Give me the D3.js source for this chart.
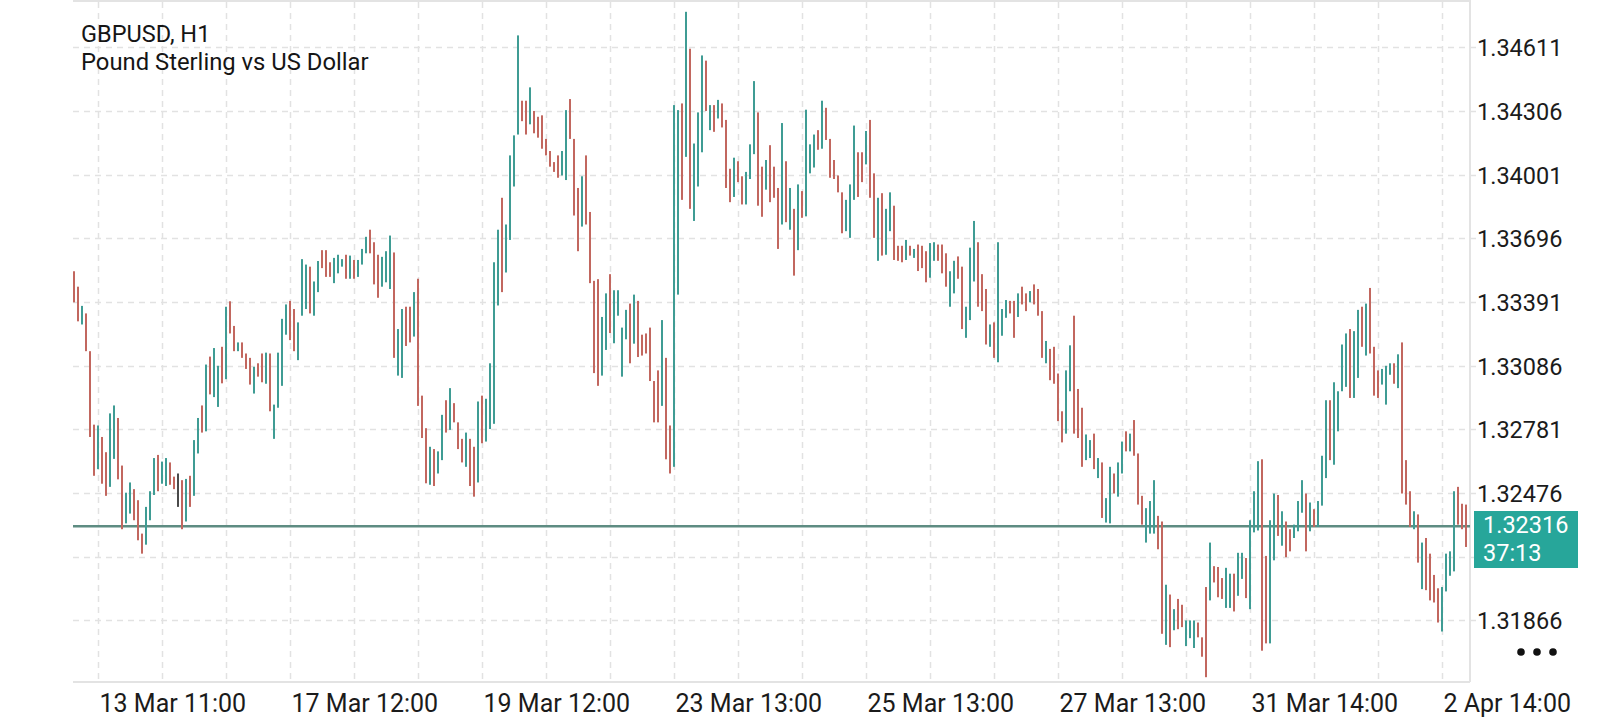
<!DOCTYPE html>
<html><head><meta charset="utf-8">
<script src="https://cdn.jsdelivr.net/npm/d3@7"></script>
<style>html,body{margin:0;padding:0;background:#fff;} svg{display:block;}</style>
</head><body><svg id="c" width="1600" height="720"></svg>
<script>
const symbol = "GBPUSD, H1";
const description = "Pound Sterling vs US Dollar";
const highs = [
1.33538,1.33464,1.33372,1.33336,1.33155,1.32803,1.32799,1.32744,1.32671,1.32857,
1.32895,1.32835,1.32607,1.32477,1.32526,1.32494,1.32441,1.32281,1.32409,1.32484,
1.32643,1.32658,1.32626,1.32643,1.32622,1.32554,1.32569,1.32537,1.32543,1.32558,
1.32729,1.32835,1.32895,1.33091,1.33129,1.33170,1.33085,1.33176,1.33368,1.33394,
1.33276,1.33197,1.33197,1.33144,1.33123,1.33080,1.33097,1.33144,1.33148,1.33144,
1.32899,1.33148,1.33310,1.33379,1.33396,1.33357,1.33293,1.33596,1.33570,1.33560,
1.33489,1.33587,1.33639,1.33639,1.33581,1.33602,1.33617,1.33596,1.33617,1.33613,
1.33592,1.33592,1.33645,1.33703,1.33737,1.33677,1.33617,1.33607,1.33634,1.33709,
1.33628,1.33261,1.33357,1.33368,1.33368,1.33438,1.33502,1.32942,1.32786,1.32697,
1.32686,1.32675,1.32850,1.32920,1.32978,1.32906,1.32814,1.32735,1.32765,1.32735,
1.32697,1.32914,1.32942,1.32927,1.33097,1.33581,1.33737,1.33890,1.33762,1.34093,
1.34189,1.34668,1.34355,1.34355,1.34419,1.34306,1.34278,1.34285,1.34172,1.34114,
1.34061,1.34093,1.34114,1.34310,1.34363,1.34172,1.33937,1.33993,1.34093,1.33822,
1.33492,1.33500,1.33319,1.33432,1.33524,1.33447,1.33447,1.33268,1.33353,1.33383,
1.33426,1.33396,1.33234,1.33240,1.33268,1.33012,1.33063,1.33304,1.33123,1.32799,
1.34334,1.34310,1.34342,1.34781,1.34604,1.34150,1.34299,1.34572,1.34547,1.34334,
1.34334,1.34359,1.34342,1.34263,1.34029,1.34082,1.34065,1.33993,1.34014,1.34146,
1.34449,1.34299,1.34039,1.34071,1.34142,1.34039,1.33937,1.34248,1.34065,1.33937,
1.33837,1.33954,1.33922,1.34312,1.34146,1.34193,1.34214,1.34355,1.34321,1.34172,
1.34071,1.33997,1.33916,1.33880,1.33954,1.34236,1.34108,1.34108,1.34210,1.34263,
1.34007,1.33890,1.33912,1.33837,1.33916,1.33852,1.33660,1.33660,1.33688,1.33660,
1.33645,1.33666,1.33660,1.33634,1.33673,1.33677,1.33666,1.33666,1.33624,1.33538,
1.33588,1.33609,1.33560,1.33368,1.33651,1.33779,1.33677,1.33524,1.33453,1.33283,
1.33293,1.33677,1.33357,1.33400,1.33396,1.33396,1.33432,1.33464,1.33432,1.33443,
1.33475,1.33453,1.33347,1.33204,1.33166,1.33176,1.33048,1.32867,1.33063,1.33183,
1.33325,1.32974,1.32884,1.32756,1.32729,1.32760,1.32643,1.32622,1.32451,1.32601,
1.32569,1.32622,1.32722,1.32771,1.32760,1.32825,1.32665,1.32462,1.32403,1.32437,
1.32537,1.32366,1.32339,1.32036,1.31989,1.31919,1.31968,1.31940,1.31865,1.31865,
1.31865,1.31855,1.31784,1.32025,1.32238,1.32125,1.32121,1.32068,1.32117,1.32089,
1.32089,1.32189,1.32189,1.32164,1.32345,1.32484,1.32628,1.32637,1.32174,1.32345,
1.32473,1.32466,1.32388,1.32339,1.32302,1.32324,1.32437,1.32537,1.32473,1.32430,
1.32398,1.32437,1.32654,1.32920,1.32920,1.33006,1.32963,1.33187,1.33240,1.33261,
1.33251,1.33353,1.33368,1.33383,1.33458,1.33176,1.33063,1.33070,1.33085,1.33097,
1.33097,1.33140,1.33197,1.32633,1.32484,1.32388,1.32373,1.32238,1.32260,1.32185,
1.32083,1.32019,1.32025,1.32185,1.32196,1.32484,1.32505,1.32424,1.32420];
const lows = [
1.33389,1.33298,1.33283,1.33155,1.32744,1.32558,1.32590,1.32520,1.32462,1.32505,
1.32639,1.32541,1.32302,1.32330,1.32377,1.32345,1.32249,1.32185,1.32228,1.32345,
1.32466,1.32484,1.32520,1.32509,1.32515,1.32494,1.32409,1.32302,1.32339,1.32409,
1.32462,1.32665,1.32765,1.32771,1.32948,1.32935,1.32888,1.33001,1.33021,1.33240,
1.33155,1.33155,1.33123,1.33070,1.32995,1.32952,1.33033,1.33006,1.32999,1.32867,
1.32735,1.32884,1.32989,1.33234,1.33208,1.33155,1.33112,1.33325,1.33357,1.33336,
1.33325,1.33438,1.33553,1.33511,1.33511,1.33481,1.33528,1.33560,1.33502,1.33502,
1.33502,1.33511,1.33570,1.33624,1.33624,1.33475,1.33411,1.33464,1.33485,1.33453,
1.33123,1.33038,1.33027,1.33180,1.33197,1.33225,1.32893,1.32739,1.32522,1.32515,
1.32509,1.32569,1.32633,1.32765,1.32778,1.32814,1.32686,1.32622,1.32601,1.32509,
1.32458,1.32526,1.32714,1.32722,1.32782,1.32807,1.33374,1.33438,1.33532,1.33688,
1.33944,1.34193,1.34257,1.34193,1.34242,1.34199,1.34178,1.34125,1.34093,1.34039,
1.34014,1.33986,1.33997,1.33975,1.34172,1.33805,1.33634,1.33752,1.33762,1.33481,
1.33050,1.32989,1.33038,1.33161,1.33242,1.33193,1.33325,1.33033,1.33212,1.33097,
1.33191,1.33127,1.33134,1.33144,1.33012,1.32814,1.32814,1.32893,1.32637,1.32569,
1.32601,1.33426,1.33880,1.34086,1.33837,1.33779,1.33944,1.34108,1.34306,1.34214,
1.34206,1.34270,1.34227,1.33937,1.33869,1.33894,1.33965,1.33858,1.33858,1.33980,
1.34099,1.33852,1.33799,1.33929,1.33869,1.33890,1.33645,1.33762,1.33773,1.33737,
1.33517,1.33639,1.33794,1.33801,1.34007,1.34035,1.34120,1.34125,1.34167,1.33986,
1.33980,1.33916,1.33720,1.33730,1.33698,1.33880,1.33894,1.33965,1.34050,1.33890,
1.33698,1.33588,1.33613,1.33617,1.33730,1.33592,1.33588,1.33581,1.33592,1.33613,
1.33602,1.33539,1.33553,1.33485,1.33507,1.33588,1.33588,1.33528,1.33464,1.33368,
1.33432,1.33502,1.33261,1.33219,1.33304,1.33489,1.33368,1.33347,1.33187,1.33176,
1.33123,1.33102,1.33229,1.33315,1.33336,1.33219,1.33319,1.33379,1.33347,1.33389,
1.33379,1.33325,1.33123,1.33097,1.33016,1.32999,1.32820,1.32718,1.32760,1.32963,
1.32760,1.32739,1.32601,1.32633,1.32643,1.32590,1.32547,1.32356,1.32334,1.32330,
1.32473,1.32458,1.32569,1.32675,1.32675,1.32654,1.32420,1.32324,1.32238,1.32281,
1.32281,1.32206,1.31801,1.31748,1.31737,1.31818,1.31823,1.31833,1.31742,1.31780,
1.31733,1.31784,1.31691,1.31593,1.31961,1.32047,1.31976,1.31968,1.31925,1.31925,
1.31908,1.31983,1.32064,1.31972,1.31919,1.32287,1.32296,1.31720,1.31755,1.31755,
1.32153,1.32270,1.32223,1.32168,1.32196,1.32260,1.32292,1.32381,1.32196,1.32292,
1.32313,1.32313,1.32415,1.32547,1.32633,1.32611,1.32771,1.32963,1.32984,1.32931,
1.32931,1.33027,1.33176,1.33134,1.33144,1.32942,1.32931,1.32995,1.32899,1.33042,
1.32999,1.32978,1.32473,1.32420,1.32313,1.32302,1.32142,1.32015,1.32010,1.31961,
1.31951,1.31855,1.31812,1.32004,1.32079,1.32100,1.32324,1.32302,1.32217];
// 1 = bullish bar, -1 = bearish bar, 0 = unchanged
const dirs = [
-1,-1,1,-1,-1,-1,1,-1,-1,1, 1,-1,-1,1,1,-1,-1,-1,1,1, 1,-1,1,1,-1,-1,0,-1,1,-1,
1,1,-1,1,-1,1,1,-1,1,-1, -1,1,-1,-1,-1,1,-1,-1,1,-1, 1,1,1,1,-1,-1,1,1,1,-1,
1,1,-1,-1,-1,1,1,1,-1,1, -1,1,1,1,-1,-1,-1,1,1,1, -1,1,1,-1,-1,1,-1,-1,-1,1,
-1,1,1,-1,1,-1,-1,-1,1,-1, -1,1,-1,1,1,1,1,-1,1,1, 1,1,-1,-1,1,-1,-1,-1,-1,-1,
-1,-1,1,1,-1,-1,-1,1,-1,-1, -1,-1,1,1,-1,1,1,1,1,-1, 1,-1,-1,-1,-1,-1,-1,1,-1,-1,
1,1,-1,1,-1,1,1,1,-1,1, -1,1,-1,-1,-1,1,-1,-1,1,1, 1,-1,-1,1,-1,-1,-1,1,-1,1,
-1,1,-1,1,1,1,-1,1,-1,-1, -1,-1,-1,1,1,1,-1,-1,1,-1, -1,1,-1,1,1,-1,-1,-1,1,-1,
1,-1,-1,-1,1,1,-1,-1,-1,1, 1,-1,-1,1,1,1,-1,-1,-1,1, -1,1,1,1,-1,-1,1,-1,-1,1,
-1,-1,-1,1,-1,-1,-1,-1,1,1, -1,-1,-1,1,1,-1,1,-1,1,1, -1,1,1,-1,1,-1,-1,-1,1,1,
1,-1,-1,1,-1,1,-1,-1,1,1, 1,-1,-1,-1,1,-1,-1,-1,1,1, -1,1,1,-1,1,1,1,-1,-1,1,
1,-1,1,-1,-1,1,1,1,-1,1, -1,1,1,1,-1,1,1,1,1,-1, 1,1,-1,1,-1,-1,-1,1,1,1,
-1,1,-1,-1,-1,1,-1,1,-1,-1, -1,-1,1,1,1,1,-1,-1,-1];
const yTicks = [1.34611,1.34306,1.34001,1.33696,1.33391,1.33086,1.32781,1.32476,1.32171,1.31866];
const xTickIndex = [6,54,102,150,198,246,294,342];
const xTickLabels = ["13 Mar 11:00","17 Mar 12:00","19 Mar 12:00","23 Mar 13:00","25 Mar 13:00","27 Mar 13:00","31 Mar 14:00","2 Apr 14:00"];
const lastPrice = 1.32316;
const timer = "37:13";

const plot = {left: 73, right: 1470, top: 2, bottom: 682};
const svg = d3.select("#c");
const n = highs.length;

const x = d3.scaleLinear().domain([0, n - 1]).range([74, 74 + 4 * (n - 1)]);
const y = d3.scaleLinear().domain([1.31570, 1.34828]).range([plot.bottom, plot.top]);

const gridColor = "#e2e2e2";
const vGrid = d3.range(xTickIndex[0], n, 16);
svg.append("g").selectAll("line").data(vGrid).join("line")
  .attr("x1", d => Math.round(x(d)) + 0.5).attr("x2", d => Math.round(x(d)) + 0.5)
  .attr("y1", plot.top).attr("y2", plot.bottom)
  .attr("stroke", gridColor).attr("stroke-width", 1.5).attr("stroke-dasharray", "6,5");
svg.append("g").selectAll("line").data(yTicks).join("line")
  .attr("x1", plot.left).attr("x2", plot.right + 6)
  .attr("y1", d => Math.round(y(d)) + 0.5).attr("y2", d => Math.round(y(d)) + 0.5)
  .attr("stroke", gridColor).attr("stroke-width", 1.5).attr("stroke-dasharray", "6,5");

const frame = svg.append("g").attr("stroke", "#e3e3e3").attr("stroke-width", 2);
frame.append("line").attr("x1", plot.left).attr("x2", plot.right).attr("y1", 1).attr("y2", 1);
frame.append("line").attr("x1", plot.right).attr("x2", plot.right).attr("y1", 0).attr("y2", plot.bottom);
frame.append("line").attr("x1", plot.left).attr("x2", plot.right).attr("y1", plot.bottom).attr("y2", plot.bottom);

svg.append("line")
  .attr("x1", plot.left).attr("x2", plot.right)
  .attr("y1", y(lastPrice)).attr("y2", y(lastPrice))
  .attr("stroke", "#5e8c82").attr("stroke-width", 2.5);

const colors = {"1": "#3f9c94", "-1": "#c2675f", "0": "#4a4a4a"};
svg.append("g").selectAll("rect").data(d3.range(n)).join("rect")
  .attr("x", i => x(i) - 1)
  .attr("width", 2)
  .attr("y", i => y(highs[i]))
  .attr("height", i => Math.max(1, y(lows[i]) - y(highs[i])))
  .attr("fill", i => colors[dirs[i]]);

// y axis: labels hidden where the last-price tag covers them
const tagTop = Math.round(y(lastPrice)) - 15, tagH = 57;
const yLabelTicks = yTicks.filter(v => y(v) < tagTop - 8 || y(v) > tagTop + tagH + 8);
const yAxis = d3.axisRight(y).tickValues(yLabelTicks).tickSize(0).tickPadding(0).tickFormat(d3.format(".5f"));
const gy = svg.append("g").attr("transform", `translate(${plot.right + 7},0)`).call(yAxis);
gy.select(".domain").remove();
gy.selectAll("text").attr("font-family", "Roboto, sans-serif").attr("font-size", 23.5).attr("fill", "#1b1b1b").attr("dy", "0.36em");

const xAxis = d3.axisBottom(x).tickValues(xTickIndex).tickSize(0).tickPadding(0).tickFormat((d, i) => xTickLabels[i]);
const gx = svg.append("g").attr("transform", `translate(0,${plot.bottom})`).call(xAxis);
gx.select(".domain").remove();
gx.selectAll("text").attr("text-anchor", "start").attr("x", 1).attr("y", 30).attr("dy", 0)
  .attr("font-family", "Roboto, sans-serif").attr("font-size", 25).attr("fill", "#1b1b1b");

const tag = svg.append("g").attr("transform", `translate(${plot.right + 4},${tagTop})`);
tag.append("rect").attr("width", 104).attr("height", tagH).attr("fill", "#27a69a");
tag.append("text").attr("x", 9).attr("y", 22).text(d3.format(".5f")(lastPrice))
  .attr("font-family", "Roboto, sans-serif").attr("font-size", 23.5).attr("fill", "#fff");
tag.append("text").attr("x", 9).attr("y", 50).text(timer)
  .attr("font-family", "Roboto, sans-serif").attr("font-size", 23.5).attr("fill", "#fff");

svg.append("g").selectAll("circle").data([0, 1, 2]).join("circle")
  .attr("cx", d => 1521 + d * 16).attr("cy", 652).attr("r", 3.8).attr("fill", "#111");

svg.append("text").attr("x", 81).attr("y", 42).text(symbol)
  .attr("font-family", "Roboto, sans-serif").attr("font-size", 23.5).attr("fill", "#151515");
svg.append("text").attr("x", 81).attr("y", 70).text(description)
  .attr("font-family", "Roboto, sans-serif").attr("font-size", 23.8).attr("fill", "#151515");
</script>
</body></html>
